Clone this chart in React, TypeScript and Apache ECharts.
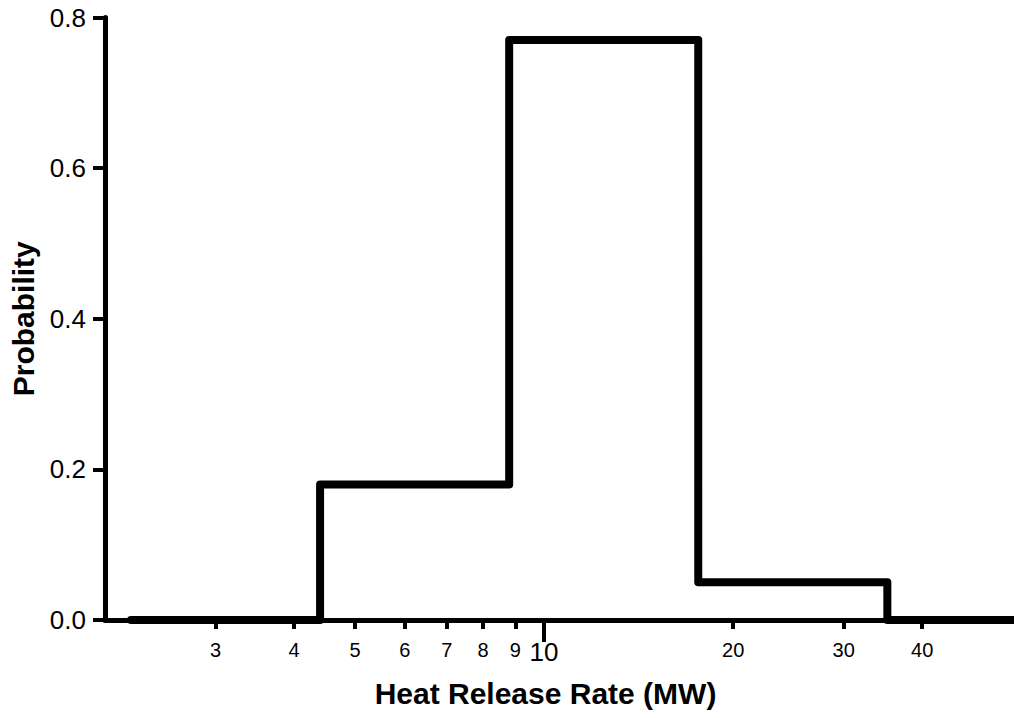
import React, { useEffect, useRef } from "react";
import * as echarts from "echarts";

// Bin edges (MW) and probability of each bin, drawn as a step line
const binEdges = [2.2, 4.4, 8.8, 17.6, 35.2, 70.4];
const binLevels = [0, 0.18, 0.77, 0.05, 0, 0];
const xMinorTicks = [3, 4, 5, 6, 7, 8, 9, 20, 30, 40];
const xMajorTicks = [10];
const yTicks = [0, 0.2, 0.4, 0.6, 0.8];

const FONT = "'Liberation Sans', Arial, Helvetica, sans-serif";

export default function App() {
  const ref = useRef<HTMLDivElement>(null);
  useEffect(() => {
    if (!ref.current) return;
    const chart = echarts.init(ref.current, null, { renderer: "svg" });
    const stepData = binEdges.map((x, i) => [x, binLevels[i]]);
    const xBase = {
      type: "log" as const,
      logBase: 10,
      min: 2,
      max: 56,
      position: "bottom" as const,
      splitLine: { show: false },
      minorTick: { show: false },
    };
    chart.setOption({
      animation: false,
      backgroundColor: "#ffffff",
      grid: {
        left: 105,
        right: 0,
        top: 17.5,
        bottom: 98,
        containLabel: false,
        outerBoundsMode: "none",
      },
      xAxis: [
        {
          ...xBase,
          name: "Heat Release Rate (MW)",
          nameLocation: "middle",
          nameGap: 58,
          nameTextStyle: {
            fontFamily: FONT,
            fontSize: 30,
            fontWeight: "bold",
            color: "#000",
            padding: [0, 28, 0, 0],
          },
          axisLine: { show: true, lineStyle: { color: "#000", width: 5 } },
          axisTick: {
            show: true,
            length: 9,
            lineStyle: { color: "#000", width: 4 },
            customValues: xMinorTicks,
          },
          axisLabel: {
            show: true,
            margin: 20,
            fontFamily: FONT,
            fontSize: 20,
            color: "#000",
            customValues: xMinorTicks,
            formatter: (v: number) => String(Math.round(v)),
          },
        },
        {
          ...xBase,
          axisLine: { show: false },
          axisTick: {
            show: true,
            length: 22,
            lineStyle: { color: "#000", width: 4 },
            customValues: xMajorTicks,
          },
          axisLabel: {
            show: true,
            margin: 19,
            fontFamily: FONT,
            fontSize: 26,
            color: "#000",
            customValues: xMajorTicks,
            formatter: (v: number) => String(Math.round(v)),
          },
        },
      ],
      yAxis: {
        type: "value",
        min: 0,
        max: 0.8,
        interval: 0.2,
        name: "Probability",
        nameLocation: "middle",
        nameRotate: 90,
        nameGap: 67,
        nameTextStyle: {
          fontFamily: FONT,
          fontSize: 30,
          fontWeight: "bold",
          color: "#000",
        },
        splitLine: { show: false },
        axisLine: { show: true, lineStyle: { color: "#000", width: 5 } },
        axisTick: {
          show: true,
          length: 12,
          lineStyle: { color: "#000", width: 4 },
          customValues: yTicks,
        },
        axisLabel: {
          margin: 19,
          fontFamily: FONT,
          fontSize: 26,
          color: "#000",
          customValues: yTicks,
          formatter: (v: number) => v.toFixed(1),
        },
      },
      series: [
        {
          type: "line",
          xAxisIndex: 0,
          step: "end",
          data: stepData,
          showSymbol: false,
          symbol: "none",
          clip: true,
          lineStyle: { color: "#000", width: 8, cap: "round", join: "round" },
        },
      ],
    });
    return () => chart.dispose();
  }, []);
  return (
    <div
      ref={ref}
      style={{ position: "fixed", left: 0, top: 0, width: 1014, height: 718, background: "#fff" }}
    />
  );
}
